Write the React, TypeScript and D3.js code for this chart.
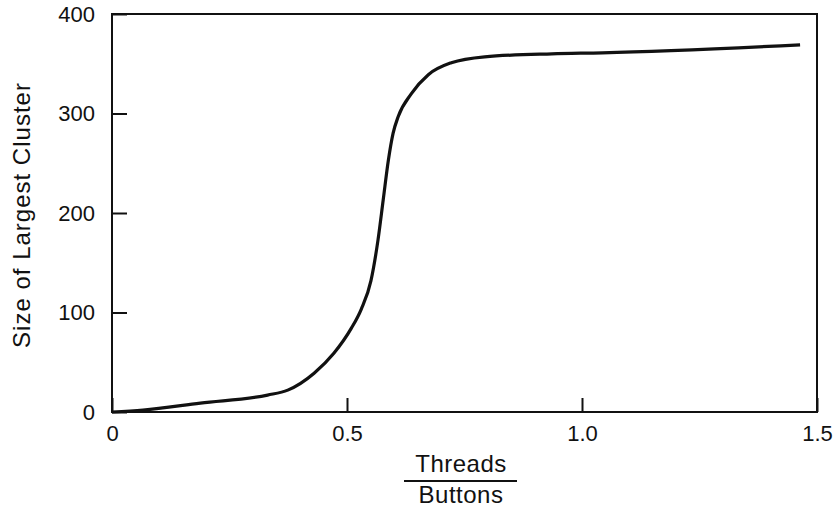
import React, { useEffect, useRef } from 'react';
import * as d3 from 'd3';

// curve
const ratio = [0, 0.066, 0.188, 0.331, 0.374, 0.43, 0.472, 0.509, 0.53, 0.551, 0.566, 0.577, 0.588, 0.598, 0.609, 0.637, 0.673, 0.722, 0.793, 0.936, 1.043, 1.464];
const clusterSize = [0, 2, 9, 17, 22, 39, 59, 84, 103, 132, 173, 213, 253, 280, 297, 320, 339, 351, 357, 360, 361, 369];

const xTicks = [0, 0.5, 1.0, 1.5];
const xTickLabels = ['0', '0.5', '1.0', '1.5'];
const yTicks = [0, 100, 200, 300, 400];

const FONT = '"Liberation Sans", Arial, sans-serif';
const INK = '#111';

export default function App() {
  const ref = useRef<SVGSVGElement>(null);

  useEffect(() => {
    const width = 835;
    const height = 508;
    const margin = { top: 14, right: 18, bottom: 96, left: 112 };
    const innerWidth = width - margin.left - margin.right;
    const innerHeight = height - margin.top - margin.bottom;

    const svg = d3.select(ref.current);
    svg.selectAll('*').remove();
    const g = svg.append('g').attr('transform', `translate(${margin.left}, ${margin.top})`);

    const xScale = d3.scaleLinear().domain([0, 1.5]).range([0, innerWidth]);
    const yScale = d3.scaleLinear().domain([0, 400]).range([innerHeight, 0]);

    // frame
    g.append('rect')
      .attr('x', 0)
      .attr('y', 0)
      .attr('width', innerWidth)
      .attr('height', innerHeight)
      .attr('fill', 'none')
      .attr('stroke', INK)
      .attr('stroke-width', 2);

    // x axis, ticks pointing in
    const xAxis = g.append('g')
      .attr('transform', `translate(0, ${innerHeight})`)
      .call(
        d3.axisBottom(xScale)
          .tickValues(xTicks)
          .tickSizeInner(-14)
          .tickSizeOuter(0)
          .tickPadding(13)
          .tickFormat((d, i) => xTickLabels[i])
      );
    xAxis.select('.domain').remove();
    xAxis.selectAll('line').attr('stroke', INK).attr('stroke-width', 2);
    xAxis.selectAll('text')
      .attr('font-family', FONT)
      .attr('font-size', 22)
      .attr('fill', INK);

    const yAxis = g.append('g')
      .call(
        d3.axisLeft(yScale)
          .tickValues(yTicks)
          .tickSizeInner(-15)
          .tickSizeOuter(0)
          .tickPadding(17)
      );
    yAxis.select('.domain').remove();
    yAxis.selectAll('line').attr('stroke', INK).attr('stroke-width', 2);
    yAxis.selectAll('text')
      .attr('font-family', FONT)
      .attr('font-size', 22)
      .attr('fill', INK);

    // the curve
    const pts = ratio.map((r, i) => [r, clusterSize[i]] as [number, number]);
    const lineGen = d3.line<[number, number]>()
      .x(d => xScale(d[0]))
      .y(d => yScale(d[1]))
      .curve(d3.curveMonotoneX);
    g.append('path')
      .datum(pts)
      .attr('d', lineGen)
      .attr('fill', 'none')
      .attr('stroke', INK)
      .attr('stroke-width', 3.2);

    // axis titles
    svg.append('text')
      .attr('transform', 'translate(30, 215) rotate(-90)')
      .attr('text-anchor', 'middle')
      .attr('font-family', FONT)
      .attr('font-size', 24)
      .attr('letter-spacing', 1)
      .attr('fill', INK)
      .text('Size of Largest Cluster');

    const cx = 461;
    svg.append('text')
      .attr('x', cx)
      .attr('y', 472)
      .attr('text-anchor', 'middle')
      .attr('font-family', FONT)
      .attr('font-size', 24)
      .attr('letter-spacing', 0.5)
      .attr('fill', INK)
      .text('Threads');
    svg.append('line')
      .attr('x1', 404)
      .attr('x2', 517)
      .attr('y1', 481)
      .attr('y2', 481)
      .attr('stroke', INK)
      .attr('stroke-width', 2);
    svg.append('text')
      .attr('x', cx)
      .attr('y', 503)
      .attr('text-anchor', 'middle')
      .attr('font-family', FONT)
      .attr('font-size', 24)
      .attr('letter-spacing', 0.5)
      .attr('fill', INK)
      .text('Buttons');
  }, []);

  return (
    <div style={{ position: 'absolute', left: 0, top: 0 }}>
      <svg ref={ref} width={835} height={508} style={{ display: 'block', background: '#fff' }} />
    </div>
  );
}
